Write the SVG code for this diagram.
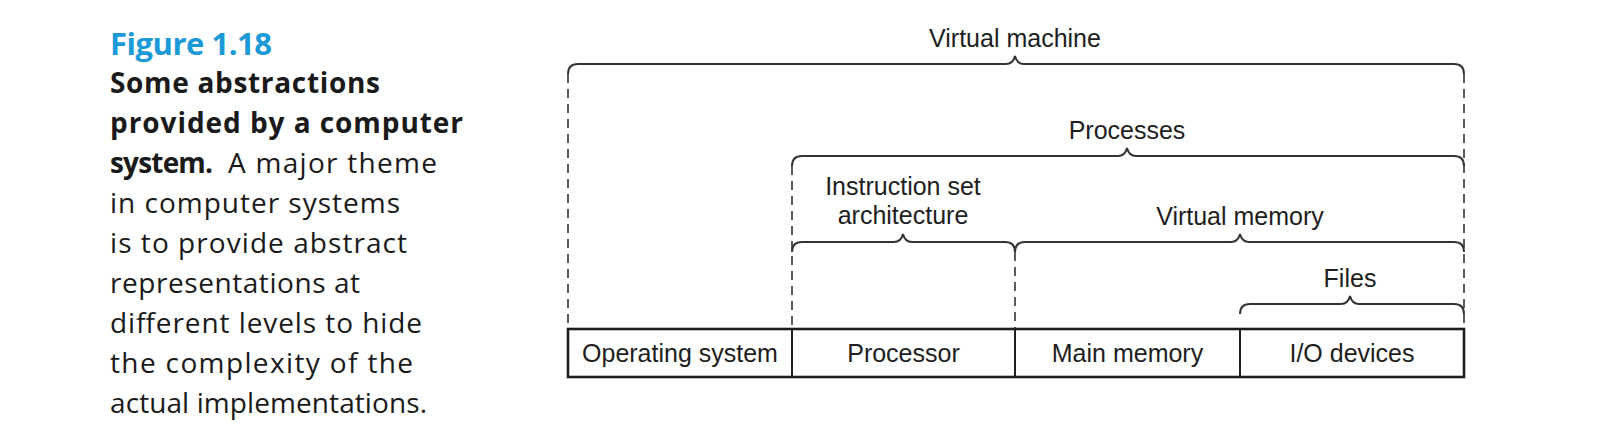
<svg xmlns="http://www.w3.org/2000/svg" width="1622" height="448" viewBox="0 0 1622 448">
<style>
.cap{font-family:"Open Sans","Noto Sans",sans-serif;font-size:28px;fill:#1a1a1a}
.b{font-weight:bold}
.fig{font-family:"Open Sans","Noto Sans",sans-serif;font-size:31px;font-weight:bold;fill:#1b9ad7}
.lbl{font-family:"Liberation Sans",Arial,sans-serif;font-size:25px;fill:#1e1e1e;text-anchor:middle}
.brace{fill:none;stroke:#333;stroke-width:2}
.dash{fill:none;stroke:#333;stroke-width:1.6;stroke-dasharray:9 6}
.box{fill:#fff;stroke:#1e1e1e;stroke-width:2.6}
.div{stroke:#1e1e1e;stroke-width:2}
</style>
<rect width="1622" height="448" fill="#fff"/>
<g id="caption">
<text class="fig" x="110" y="55" textLength="162" lengthAdjust="spacing">Figure 1.18</text>
<text class="cap b" x="110" y="93" textLength="270" lengthAdjust="spacing">Some abstractions</text>
<text class="cap b" x="110" y="133" textLength="353" lengthAdjust="spacing">provided by a computer</text>
<text class="cap b" x="110" y="173" textLength="103" lengthAdjust="spacing">system.</text>
<text class="cap" x="228" y="173" textLength="209" lengthAdjust="spacing">A major theme</text>
<text class="cap" x="110" y="213" textLength="290" lengthAdjust="spacing">in computer systems</text>
<text class="cap" x="110" y="253" textLength="297" lengthAdjust="spacing">is to provide abstract</text>
<text class="cap" x="110" y="293" textLength="250" lengthAdjust="spacing">representations at</text>
<text class="cap" x="110" y="333" textLength="312" lengthAdjust="spacing">different levels to hide</text>
<text class="cap" x="110" y="373" textLength="303" lengthAdjust="spacing">the complexity of the</text>
<text class="cap" x="110" y="413" textLength="317" lengthAdjust="spacing">actual implementations.</text>
</g>
<g id="connectors">
<line class="dash" x1="568" y1="74" x2="568" y2="329"/>
<line class="dash" x1="792" y1="166" x2="792" y2="329"/>
<line class="dash" x1="1015" y1="252" x2="1015" y2="329"/>
<line class="dash" x1="1464" y1="74" x2="1464" y2="329"/>
</g>
<g id="virtual-machine">
<path class="brace" d="M568,74 Q568,64 578,64 L1006,64 Q1013,64 1015,56 Q1017,64 1024,64 L1454,64 Q1464,64 1464,74"/>
<text class="lbl" x="1015" y="47">Virtual machine</text>
</g>
<g id="processes">
<path class="brace" d="M792,166 Q792,156 802,156 L1118,156 Q1125,156 1127,148 Q1129,156 1136,156 L1454,156 Q1464,156 1464,166"/>
<text class="lbl" x="1127" y="139">Processes</text>
</g>
<g id="instruction-set-architecture">
<path class="brace" d="M792,252 Q792,242 802,242 L894,242 Q901,242 903,234 Q905,242 912,242 L1005,242 Q1015,242 1015,252"/>
<text class="lbl" x="903" y="195">Instruction set</text>
<text class="lbl" x="903" y="224">architecture</text>
</g>
<g id="virtual-memory">
<path class="brace" d="M1015,252 Q1015,242 1025,242 L1231,242 Q1238,242 1240,234 Q1242,242 1249,242 L1454,242 Q1464,242 1464,252"/>
<text class="lbl" x="1240" y="225">Virtual memory</text>
</g>
<g id="files">
<path class="brace" d="M1240,314 Q1240,304 1250,304 L1341,304 Q1348,304 1350,296 Q1352,304 1359,304 L1454,304 Q1464,304 1464,314"/>
<text class="lbl" x="1350" y="287">Files</text>
</g>
<g id="hardware-row">
<rect class="box" x="568" y="329" width="896" height="48"/>
<line class="div" x1="792" y1="329" x2="792" y2="377"/>
<line class="div" x1="1015" y1="329" x2="1015" y2="377"/>
<line class="div" x1="1240" y1="329" x2="1240" y2="377"/>
</g>
<g id="operating-system"><text class="lbl" x="680" y="362">Operating system</text></g>
<g id="processor"><text class="lbl" x="903.5" y="362">Processor</text></g>
<g id="main-memory"><text class="lbl" x="1127.5" y="362">Main memory</text></g>
<g id="io-devices"><text class="lbl" x="1352" y="362">I/O devices</text></g>
</svg>
